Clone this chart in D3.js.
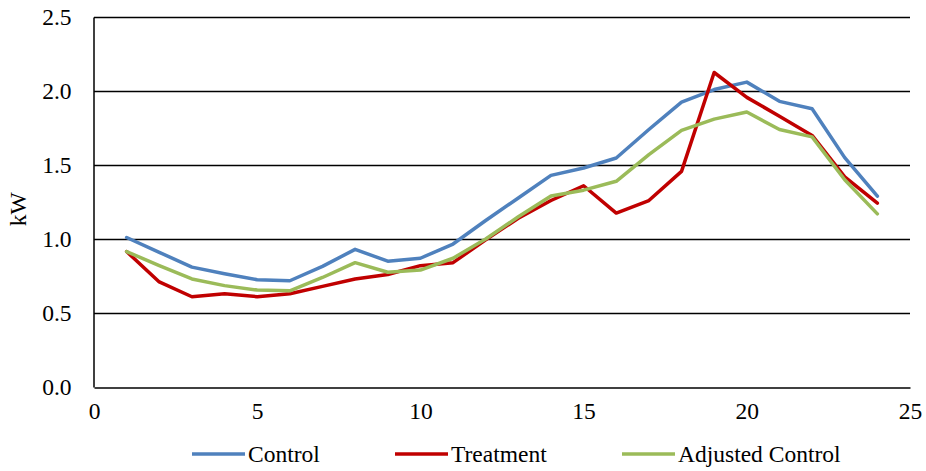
<!DOCTYPE html>
<html>
<head>
<meta charset="utf-8">
<script src="https://cdn.jsdelivr.net/npm/d3@7"></script>
<style>
  html, body { margin: 0; padding: 0; background: #fff; }
  svg text { font-family: "Liberation Serif", "Times New Roman", serif; fill: #000; }
</style>
</head>
<body>
<svg id="chart" width="926" height="471"></svg>
<script>
// Hour of day
const hours = [1,2,3,4,5,6,7,8,9,10,11,12,13,14,15,16,17,18,19,20,21,22,23,24];

// Average load, kW
const control = [1.01,0.91,0.81,0.765,0.725,0.718,0.815,0.93,0.85,0.87,0.966,1.125,1.277,1.43,1.48,1.547,1.74,1.925,2.01,2.06,1.93,1.88,1.55,1.29];
const treatment = [0.915,0.71,0.61,0.63,0.61,0.63,0.68,0.73,0.76,0.82,0.84,0.995,1.14,1.26,1.36,1.175,1.26,1.457,2.125,1.957,1.83,1.70,1.42,1.243];
const adjustedControl = [0.915,0.82,0.73,0.685,0.655,0.65,0.74,0.84,0.775,0.79,0.87,1.0,1.15,1.29,1.33,1.39,1.57,1.734,1.81,1.858,1.74,1.69,1.40,1.17];

const xTicks = [0,5,10,15,20,25];
const yTicks = [0,0.5,1.0,1.5,2.0,2.5];

const seriesNames = ["Control", "Treatment", "Adjusted Control"];
const seriesColors = ["#4F81BD", "#C00000", "#9BBB59"];
const seriesValues = [control, treatment, adjustedControl];

const FONT = '"Liberation Serif", "Times New Roman", serif';
const FS = "23.5px";

const svg = d3.select("#chart");
const margin = { left: 94, right: 16, top: 17, bottom: 84 };
const W = 926, H = 471;

const x = d3.scaleLinear().domain([0, 25]).range([margin.left, W - margin.right]);
const y = d3.scaleLinear().domain([0, 2.5]).range([H - margin.bottom, margin.top]);

// Horizontal gridlines
svg.append("g")
  .selectAll("line")
  .data(yTicks.filter(d => d > 0))
  .join("line")
  .attr("x1", x(0)).attr("x2", x(25))
  .attr("y1", d => Math.round(y(d)) + 0.5).attr("y2", d => Math.round(y(d)) + 0.5)
  .attr("stroke", "#000").attr("stroke-width", 1.5);

// Y axis
const yAxis = svg.append("g")
  .attr("transform", `translate(${Math.round(x(0)) - 0.5},0)`)
  .call(d3.axisLeft(y).tickValues(yTicks).tickFormat(d3.format(".1f")).tickSize(0).tickPadding(22));
yAxis.attr("font-family", FONT).attr("font-size", FS);
yAxis.select(".domain").attr("stroke", "#000").attr("stroke-width", 1.5);

// X axis
const xAxis = svg.append("g")
  .attr("transform", `translate(0,${Math.round(y(0)) + 0.5})`)
  .call(d3.axisBottom(x).tickValues(xTicks).tickFormat(d3.format("d")).tickSize(0).tickPadding(15));
xAxis.attr("font-family", FONT).attr("font-size", FS);
xAxis.select(".domain").attr("stroke", "#000").attr("stroke-width", 1.5);

// Y axis title
svg.append("text")
  .attr("transform", `translate(26,${y(1.2)}) rotate(-90)`)
  .attr("text-anchor", "middle")
  .attr("font-family", FONT).attr("font-size", FS)
  .text("kW");

// Series lines
const line = d3.line().x((d, i) => x(hours[i])).y(d => y(d));
svg.append("g")
  .selectAll("path")
  .data(seriesValues)
  .join("path")
  .attr("d", d => line(d))
  .attr("fill", "none")
  .attr("stroke", (d, i) => seriesColors[i])
  .attr("stroke-width", 3.5)
  .attr("stroke-linejoin", "round")
  .attr("stroke-linecap", "round");

// Legend
const legendX = [192, 395, 622];
const legend = svg.append("g")
  .selectAll("g")
  .data(seriesNames)
  .join("g")
  .attr("transform", (d, i) => `translate(${legendX[i]},454)`);
legend.append("line")
  .attr("x1", 0).attr("x2", 53)
  .attr("y1", 0).attr("y2", 0)
  .attr("stroke", (d, i) => seriesColors[i])
  .attr("stroke-width", 3.5);
legend.append("text")
  .attr("x", 56).attr("y", 0).attr("dy", "0.35em")
  .attr("font-family", FONT).attr("font-size", FS)
  .text(d => d);
</script>
</body>
</html>
